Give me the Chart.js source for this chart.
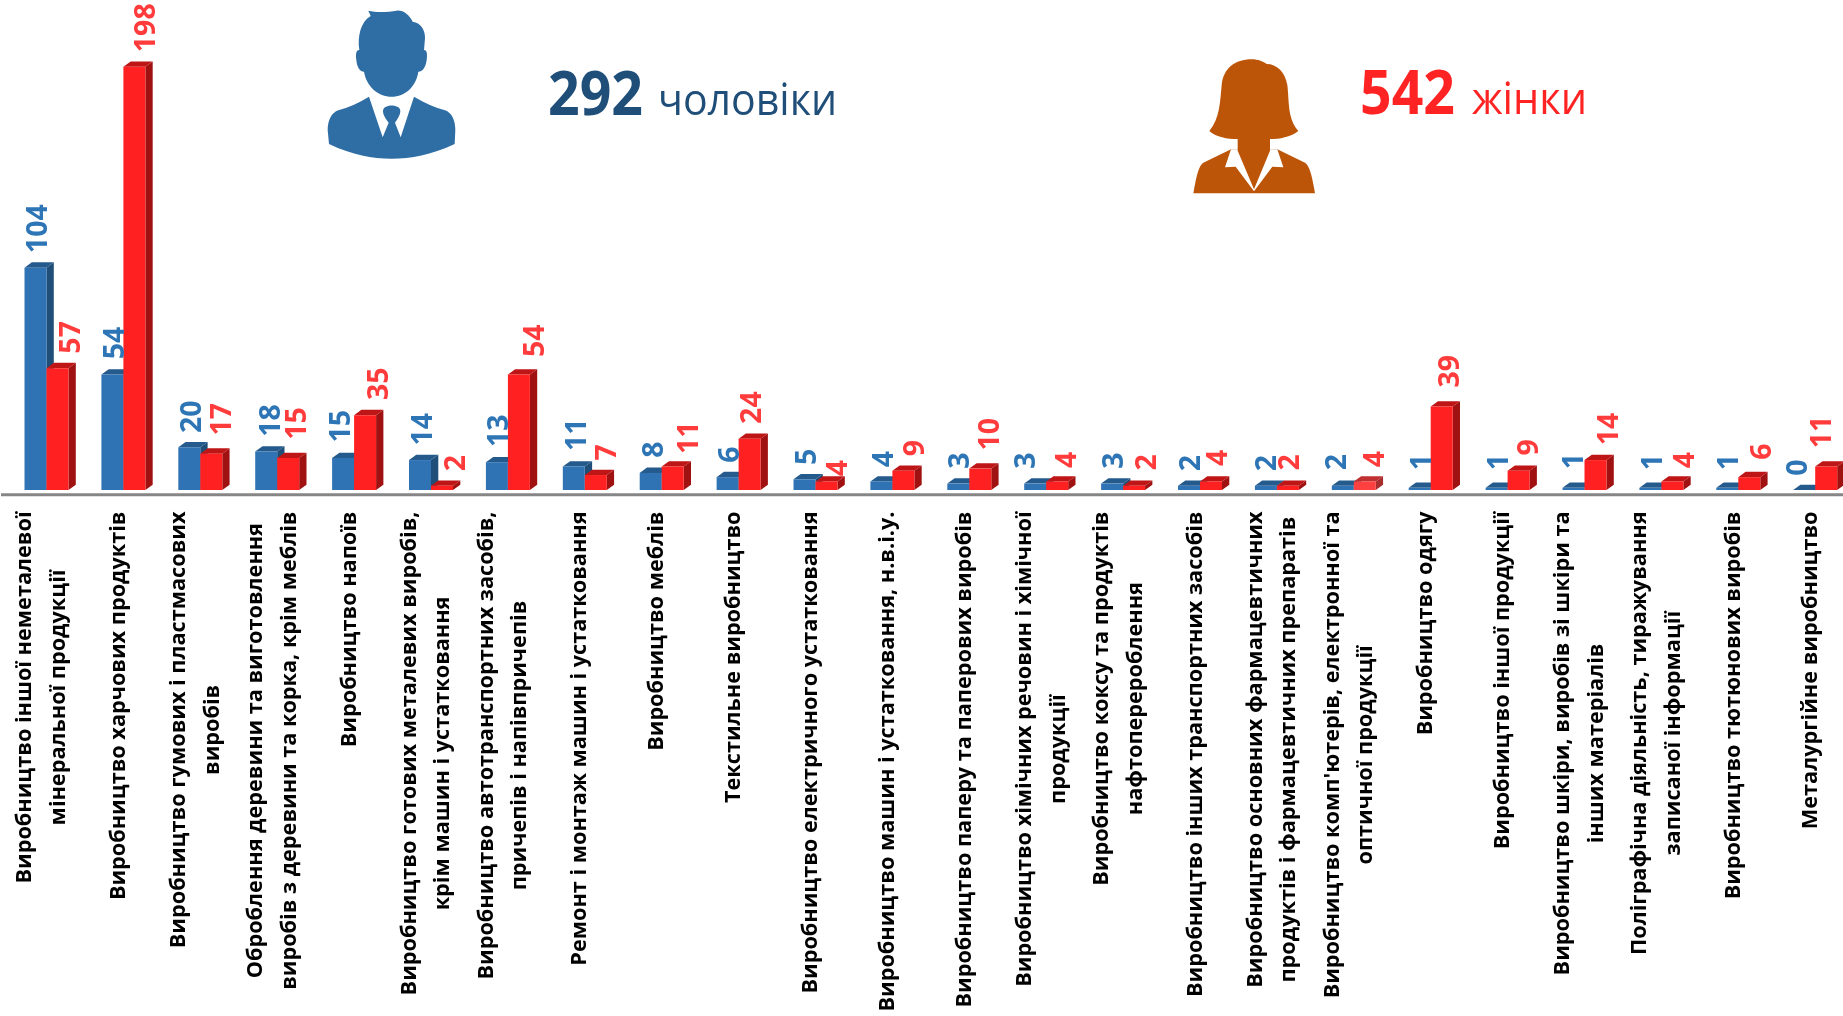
<!DOCTYPE html>
<html lang="uk">
<head>
<meta charset="utf-8">
<title>Виробництво: чоловіки та жінки</title>
<style>
html,body{margin:0;padding:0;background:#fff;overflow:hidden;width:1843px;height:1016px}
#wrap{position:absolute;left:0;top:0;width:1843px;height:1016px;overflow:hidden}
canvas{display:block}
</style>
<script src="https://cdn.jsdelivr.net/npm/chart.js@4"></script>
</head>
<body>
<div id="wrap"><canvas id="c" width="1880" height="1016"></canvas></div>
<script>
// ---------- data ----------
const categories = [
  ["Виробництво іншої неметалевої","мінеральної продукції"],
  ["Виробництво харчових продуктів"],
  ["Виробництво гумових і пластмасових","виробів"],
  ["Оброблення деревини та виготовлення","виробів з деревини та корка, крім меблів"],
  ["Виробництво напоїв"],
  ["Виробництво готових металевих виробів,","крім машин і устатковання"],
  ["Виробництво автотранспортних засобів,","причепів і напівпричепів"],
  ["Ремонт і монтаж машин і устатковання"],
  ["Виробництво меблів"],
  ["Текстильне виробництво"],
  ["Виробництво електричного устатковання"],
  ["Виробництво машин і устатковання, н.в.і.у."],
  ["Виробництво паперу та паперових виробів"],
  ["Виробництво хімічних речовин і хімічної","продукції"],
  ["Виробництво коксу та продуктів","нафтоперероблення"],
  ["Виробництво інших транспортних засобів"],
  ["Виробництво основних фармацевтичних","продуктів і фармацевтичних препаратів"],
  ["Виробництво комп'ютерів, електронної та","оптичної продукції"],
  ["Виробництво одягу"],
  ["Виробництво іншої продукції"],
  ["Виробництво шкіри, виробів зі шкіри та","інших матеріалів"],
  ["Поліграфічна діяльність, тиражування","записаної інформації"],
  ["Виробництво тютюнових виробів"],
  ["Металургійне виробництво"]
];
const men   = [104,54,20,18,15,14,13,11,8,6,5,4,3,3,3,2,2,2,1,1,1,1,1,0];
const women = [57,198,17,15,35,2,54,7,11,24,4,9,10,4,2,4,2,4,39,9,14,4,6,11];

// hand placement of the value labels in the original
const menShiftX   = [0,0,1,3,-4,1,0,1,1,0,0,0,0,-11,0,0,-1,-8,0,0,-2,0,0,-8];
const womenShiftX = [11,9,9,6.5,12,11.6,14,9,14,0,9,9,8,8,11,5,0,8,6,8,11,10,11,-6];
const menGap   = [17,17.7,16.7,17.3,18,17,17.7,18,17.7,17,16.7,16.7,17.3,17.3,17.3,17,17,18,20,20,21,20,20,16.7];
const womenGap = [17,17,20.7,20.7,17.7,17,20,17,15,17.3,7.7,17,20.7,16,17.7,18,17.7,16.7,21.7,17.7,17.3,15.7,20,20.7];

// ---------- look ----------
const BLUE={front:'#2F73B5',side:'#1F4E79',top:'#245A8C',label:'#2E75B6'};
const RED ={front:'#FF2121',side:'#A01212',top:'#BE1616',label:'#FF3B3B'};
const FADED={front:'#FF4040',side:'#A62E2E',top:'#C03030'};
const DEPTH_X=7.3, DEPTH_Y=5.3;
const SANS='"Open Sans"';

function faceColors(dsIndex,i){
  if(dsIndex===0) return BLUE;
  return i===17 ? FADED : RED;
}

const cubePlugin={
  id:'cube',
  beforeDatasetsDraw(chart){
    const ctx=chart.ctx;
    [0,1].forEach(ds=>{
      const meta=chart.getDatasetMeta(ds);
      meta.data.forEach((el,i)=>{
        const c=faceColors(ds,i);
        const l=el.x-el.width/2,r=el.x+el.width/2,t=el.y,b=el.base;
        ctx.fillStyle=c.side;
        ctx.beginPath();ctx.moveTo(r,t);ctx.lineTo(r+DEPTH_X,t-DEPTH_Y);ctx.lineTo(r+DEPTH_X,b-DEPTH_Y);ctx.lineTo(r,b);ctx.closePath();ctx.fill();
        ctx.fillStyle=c.top;
        ctx.beginPath();ctx.moveTo(l,t);ctx.lineTo(l+DEPTH_X,t-DEPTH_Y);ctx.lineTo(r+DEPTH_X,t-DEPTH_Y);ctx.lineTo(r,t);ctx.closePath();ctx.fill();
      });
      meta.controller.draw();
    });
    return false;
  }
};

const labelPlugin={
  id:'labels',
  afterDraw(chart){
    const ctx=chart.ctx,xs=chart.scales.x,ys=chart.scales.y;
    // axis line
    ctx.save();
    ctx.strokeStyle='#868686';ctx.lineWidth=3;
    const ay=ys.getPixelForValue(0)+4.8;
    ctx.beginPath();ctx.moveTo(1,ay);ctx.lineTo(chart.width,ay);ctx.stroke();
    ctx.restore();

    // value labels
    const sets=[[men,0,menShiftX,menGap,BLUE.label],[women,1,womenShiftX,womenGap,RED.label]];
    sets.forEach(([vals,ds,sx,gap,col])=>{
      const meta=chart.getDatasetMeta(ds);
      vals.forEach((v,i)=>{
        const el=meta.data[i];
        ctx.save();
        ctx.translate(el.x+sx[i],el.y-gap[i]+2.5);
        ctx.rotate(-Math.PI/2);
        ctx.font='bold 28.5px '+SANS;
        ctx.fillStyle=col;ctx.textAlign='left';ctx.textBaseline='middle';
        ctx.fillText(String(v),0,3);
        ctx.restore();
      });
    });

    // category labels
    categories.forEach((lines,i)=>{
      const cx=xs.getPixelForValue(i)-4.5;
      ctx.save();
      ctx.font='bold 21.7px '+SANS;
      ctx.fillStyle='#000';ctx.textAlign='center';ctx.textBaseline='middle';
      const len=Math.max(...lines.map(s=>ctx.measureText(s).width));
      lines.forEach((s,j)=>{
        ctx.save();
        ctx.translate(cx+(j-(lines.length-1)/2)*33.5,511.5+len/2);
        ctx.rotate(-Math.PI/2);
        ctx.fillText(s,0,0);
        ctx.restore();
      });
      ctx.restore();
    });

    // pictograms and totals
    drawMan(ctx);drawWoman(ctx);
    fit(ctx,'292',548,115,95,'bold 60px '+SANS,'#1F4E79');
    fit(ctx,'чоловіки',658,115,179,'44px '+SANS,'#1F4E79');
    fit(ctx,'542',1360,114,95,'bold 60px '+SANS,'#FF2323');
    fit(ctx,'жінки',1472,114,115,'44px '+SANS,'#FF2323');
  }
};

function fit(ctx,text,x,base,w,font,col){
  ctx.save();
  ctx.font=font;ctx.fillStyle=col;ctx.textAlign='left';ctx.textBaseline='alphabetic';
  const m=ctx.measureText(text).width;
  ctx.translate(x,base);ctx.scale(w/m,1);
  ctx.fillText(text,0,0);
  ctx.restore();
}

function drawMan(ctx){
  ctx.save();
  ctx.scale(1/3,1/3);
  ctx.fillStyle='#2F6EA5';
  ctx.fill(new Path2D('M1105 32 C1130 38 1165 36 1190 32 C1210 30 1228 45 1238 65 C1262 68 1276 90 1275 115 L1272 150 C1282 150 1282 165 1280 180 C1277 200 1270 215 1255 215 C1248 260 1215 290 1175 290 C1135 290 1100 260 1092 215 C1078 215 1071 200 1069 180 C1067 165 1067 150 1078 150 C1072 110 1082 65 1112 48 Z'));
  ctx.fill(new Path2D('M1107 290 L1148 412 L1166 368 C1152 352 1142 330 1155 322 C1168 315 1182 315 1195 322 C1208 330 1198 352 1185 368 L1202 412 L1242 290 C1275 310 1305 323 1335 331 C1355 338 1366 360 1366 390 L1364 432 C1290 466 1235 476 1175 476 C1115 476 1060 466 987 432 L983 390 C983 360 995 338 1015 331 C1045 323 1075 310 1107 290 Z'));
  ctx.restore();
}
function drawWoman(ctx){
  ctx.save();
  ctx.translate(1170,30);
  ctx.scale(1/3,1/3);
  ctx.fillStyle='#BC5508';
  ctx.fill(new Path2D('M183 358 L100 398 C88 405 80 430 70 490 L435 490 C425 430 417 405 405 398 L322 358 Z'));
  ctx.fillStyle='#FFFFFF';
  ctx.fill(new Path2D('M183 358 L165 412 L197 410 L252 484 L307 410 L340 412 L322 358 Z'));
  ctx.fillStyle='#BC5508';
  ctx.fill(new Path2D('M245 88 C265 88 280 95 290 102 C320 102 345 125 352 165 C358 215 352 265 385 303 C360 322 330 327 300 327 L300 362 L252 478 L203 362 L203 327 C170 327 140 322 118 303 C150 265 150 215 155 165 C160 115 195 88 245 88 Z'));
  ctx.restore();
}

new Chart(document.getElementById('c'),{
  type:'bar',
  data:{
    labels:categories,
    datasets:[
      {label:'чоловіки',data:men,backgroundColor:BLUE.front,categoryPercentage:0.572,barPercentage:1},
      {label:'жінки',data:women,backgroundColor:women.map((_,i)=>faceColors(1,i).front),categoryPercentage:0.572,barPercentage:1}
    ]
  },
  options:{
    responsive:false,
    animation:false,
    events:[],
    layout:{padding:{left:8.05,right:26.35,top:0,bottom:526}},
    plugins:{legend:{display:false},tooltip:{enabled:false},title:{display:false}},
    scales:{
      x:{display:false},
      y:{display:false,min:0,max:229.2}
    }
  },
  plugins:[cubePlugin,labelPlugin]
});
</script>
</body>
</html>
